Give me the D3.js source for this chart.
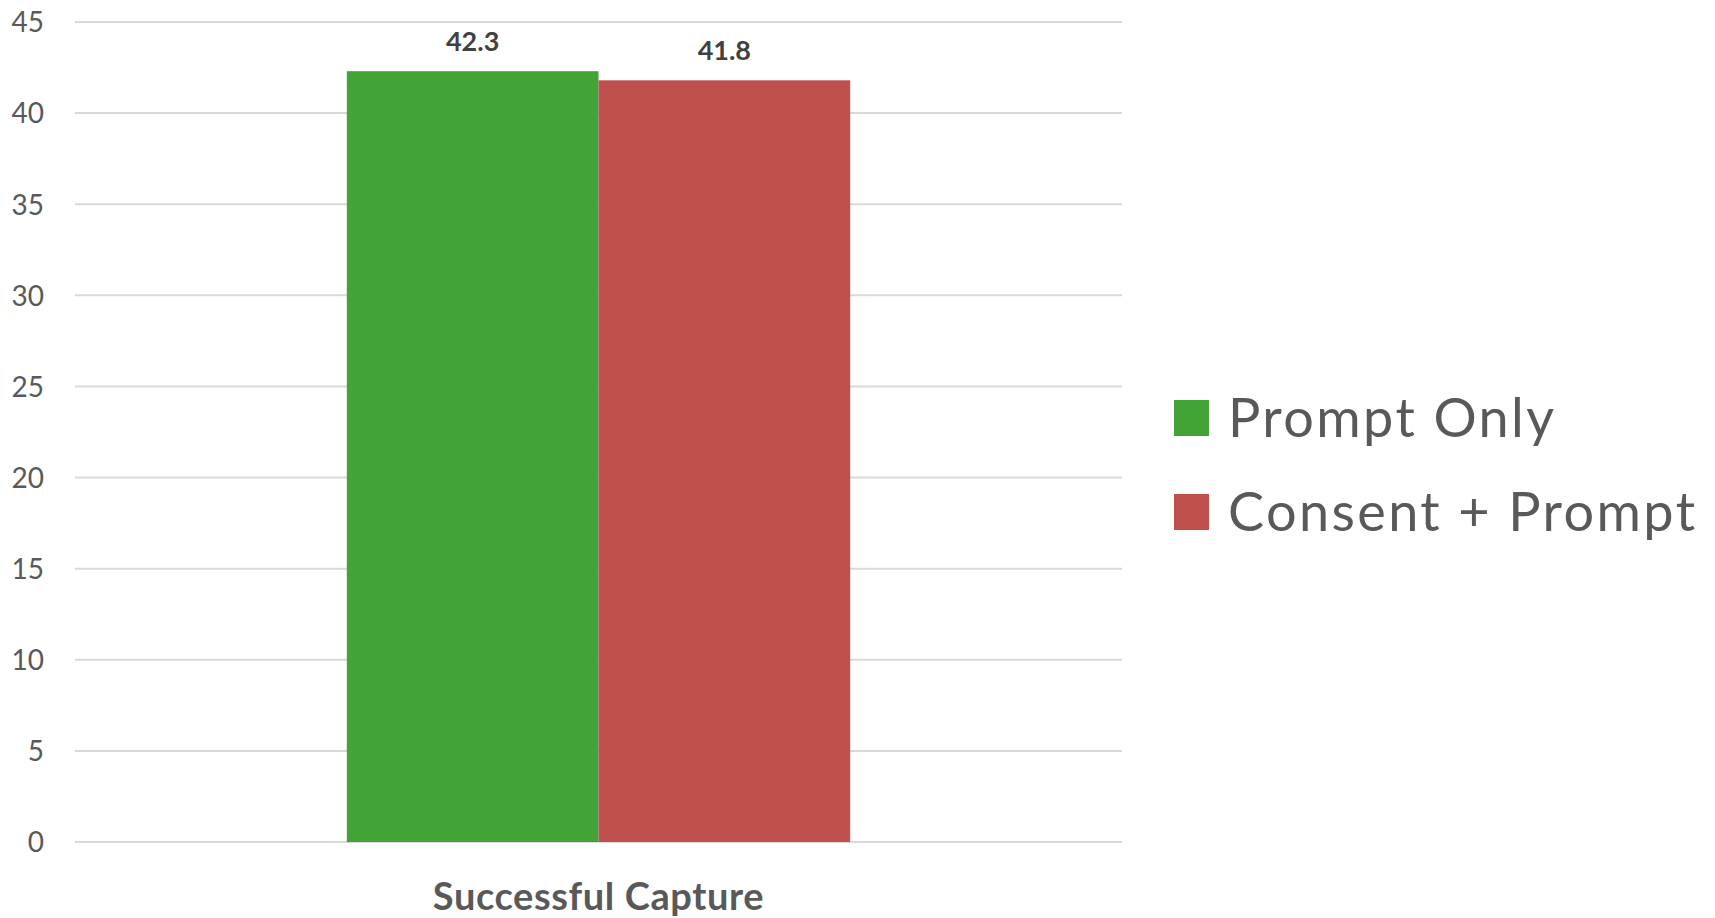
<!DOCTYPE html>
<html><head><meta charset="utf-8">
<script src="https://cdn.jsdelivr.net/npm/d3@7"></script>
<style>html,body{margin:0;padding:0;background:#fff;}svg{display:block;}</style>
</head><body>
<svg id="c" width="1715" height="918"></svg>
<script>
const categories = ["Successful Capture"];
const seriesNames = ["Prompt Only", "Consent + Prompt"];
const promptOnly = [42.3];
const consentPrompt = [41.8];
const yTicks = [0, 5, 10, 15, 20, 25, 30, 35, 40, 45];
const colors = ["#42A336", "#C0504D"];

const seriesValues = [promptOnly, consentPrompt];
const svg = d3.select("#c");
const font = "Lato, 'Open Sans', sans-serif";

const y = d3.scaleLinear().domain([0, 45]).range([842, 22]);
const x0 = d3.scaleBand().domain(categories).range([75, 1122]).paddingInner(0).paddingOuter(0.54);
const x1 = d3.scaleBand().domain(seriesNames).range([0, x0.bandwidth()]).padding(0);

// gridlines
svg.append("g").selectAll("line").data(yTicks).join("line")
  .attr("x1", 75).attr("x2", 1122)
  .attr("y1", d => y(d)).attr("y2", d => y(d))
  .attr("stroke", "#d9d9d9").attr("stroke-width", 2);

// y axis labels
const yAxis = d3.axisLeft(y).tickValues(yTicks).tickSize(0).tickPadding(0);
const ya = svg.append("g").attr("transform", "translate(44,0)").call(yAxis);
ya.select(".domain").remove();
ya.selectAll("text").attr("font-family", font).attr("font-size", 28).attr("fill", "#595959").attr("dy", "0.35em");

// bars
const groups = svg.append("g").selectAll("g").data(categories).join("g")
  .attr("transform", d => `translate(${x0(d)},0)`);
seriesNames.forEach((s, si) => {
  groups.append("rect")
    .attr("x", x1(s)).attr("width", x1.bandwidth())
    .attr("y", (d, i) => y(seriesValues[si][categories.indexOf(d)]))
    .attr("height", (d) => y(0) - y(seriesValues[si][categories.indexOf(d)]))
    .attr("fill", colors[si]);
  groups.append("text")
    .attr("x", x1(s) + x1.bandwidth() / 2)
    .attr("y", d => y(seriesValues[si][categories.indexOf(d)]) - 20)
    .attr("text-anchor", "middle")
    .attr("font-family", font).attr("font-weight", "bold").attr("font-size", 27)
    .attr("fill", "#404040")
    .text(d => seriesValues[si][categories.indexOf(d)].toFixed(1));
});

// x axis labels
const xAxis = d3.axisBottom(x0).tickSize(0).tickPadding(0);
const xa = svg.append("g").attr("transform", "translate(0,910)").call(xAxis);
xa.select(".domain").remove();
xa.selectAll("text").attr("dy", 0).attr("font-family", font).attr("font-weight", "bold").attr("font-size", 38)
  .attr("letter-spacing", 0.6).attr("fill", "#595959");

// legend
const legend = svg.append("g").selectAll("g").data(seriesNames).join("g")
  .attr("transform", (d, i) => `translate(1174,${400 + i * 94})`);
legend.append("rect").attr("width", 35).attr("height", 36).attr("fill", (d, i) => colors[i]);
legend.append("text").attr("x", 54).attr("y", 37)
  .attr("font-family", font).attr("font-size", 54).attr("letter-spacing", 2.4).attr("fill", "#595959")
  .text(d => d);
</script>
</body></html>
